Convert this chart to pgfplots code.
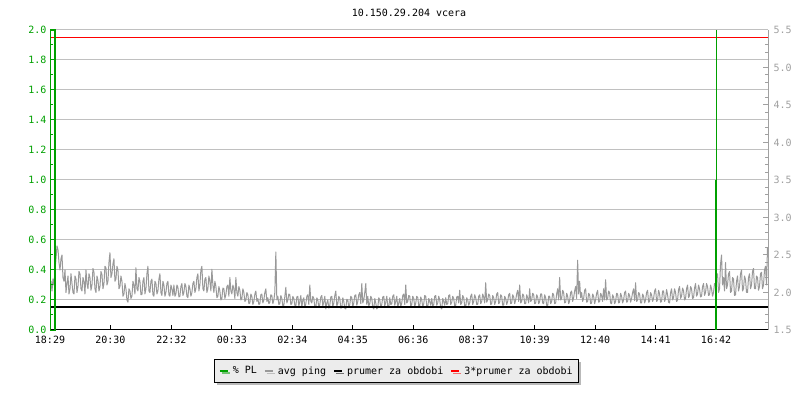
\documentclass[border=0pt]{standalone}
\usepackage{pgfplots}
\pgfplotsset{compat=1.18}
\usepackage{fontspec}
\setmainfont{DejaVu Sans Mono}
\usetikzlibrary{shadows}
\definecolor{plgreen}{RGB}{0,160,0}
\definecolor{pinggray}{RGB}{153,153,153}
\definecolor{gridgray}{RGB}{192,192,192}
\definecolor{axgray}{RGB}{160,160,160}
\definecolor{leggray}{RGB}{236,236,236}
\begin{document}
\begin{tikzpicture}[font=\fontsize{10bp}{12bp}\selectfont]
\useasboundingbox (0,0) rectangle (800bp,400bp);
\pgfplotsset{
  base/.style={at={(50bp,70bp)}, anchor=south west, scale only axis,
    width=718bp, height=300bp, xmin=0, xmax=1437,
    font=\fontsize{10bp}{12bp}\selectfont,
    /pgf/number format/assume math mode=true,
    tick align=inside, separate axis lines, axis line style={-}},
}
\begin{axis}[base,
  axis x line*=bottom, axis y line*=right,
  ymin=1.5, ymax=5.5,
  ytick={1.5,2.0,2.5,3.0,3.5,4.0,4.5,5.0,5.5}, minor y tick num=4,
  yticklabel style={/pgf/number format/.cd, fixed, fixed zerofill, precision=1, /tikz/.cd, text=axgray, xshift=2bp},
  y axis line style={draw=axgray, line width=1bp},
  ytick style={draw=axgray, line width=1bp},
  major tick length=5bp, minor tick length=3bp,
  xtick={0,121,243,364,485,606,727,848,970,1091,1212,1333},
  xticklabels={18:29,20:30,22:32,00:33,02:34,04:35,06:36,08:37,10:39,12:40,14:41,16:42},
  xticklabel style={yshift=-3bp},
  x axis line style={draw=black, line width=1bp},
  xtick style={draw=black, line width=1bp},
  extra y ticks={1.9,2.3,2.7,3.1,3.5,3.9,4.3,4.7,5.1,5.5},
  extra y tick labels={},
  extra y tick style={grid=major, major grid style={draw=gridgray, line width=1bp}, major tick length=0pt},
]
\addplot[pinggray, line width=1bp, line join=round, mark=none] coordinates {
(0,2.08)(2,2.15)(4,2.02)(6,2.18)(8,2.10)(10,2.30)(12,2.45)(14,2.62)(16,2.57)(18,2.40)(20,2.30)(22,2.45)(24,2.50)(26,2.20)(28,2.15)(30,2.30)(32,2.00)(34,2.12)(36,2.22)(38,1.98)(40,2.05)(42,2.25)(44,2.12)(46,2.00)
(48,1.98)(50,2.22)(52,2.18)(54,2.00)(56,2.08)(58,2.28)(60,2.25)(62,2.05)(64,2.02)(66,2.20)(68,2.15)(70,1.98)(72,2.30)(74,2.12)(76,2.05)(78,2.25)(80,2.20)(82,2.03)(84,2.10)(86,2.32)(88,2.27)(90,2.05)(92,2.00)(94,2.22)(96,2.16)(98,2.02)(100,2.08)(102,2.28)(104,2.24)(106,2.05)(108,2.12)(110,2.35)(112,2.33)(114,2.10)(116,2.15)(118,2.40)
(120,2.53)(122,2.20)(124,2.25)(126,2.38)(128,2.45)(130,2.15)(132,2.18)(134,2.35)(136,2.30)(138,2.05)(140,2.08)(142,2.22)(144,2.15)(146,1.95)(148,1.98)(150,2.12)(152,2.05)(154,1.90)(156,1.87)(158,2.05)(160,2.02)(162,1.92)(164,1.95)(166,2.15)(168,2.10)(170,1.98)(172,2.33)(174,2.05)(176,2.02)(178,2.20)(180,2.15)(182,1.97)(184,1.97)(186,2.15)(188,2.20)(190,1.98)(192,2.05)(194,2.25)(196,2.35)(198,2.02)(200,2.00)(202,2.15)(204,2.18)(206,1.97)(208,1.95)(210,2.15)(212,2.12)(214,1.98)(216,2.02)(218,2.18)(220,2.25)(222,2.00)(224,1.96)(226,2.15)(228,2.10)(230,1.95)(232,2.00)(234,2.12)(236,2.15)(238,1.97)(240,1.95)(242,2.10)(244,2.05)(246,1.96)
(248,2.10)(250,1.95)(252,1.98)(254,2.10)(256,2.07)(258,1.94)(260,1.95)(262,2.08)(264,2.12)(266,1.96)(268,2.00)(270,2.12)(272,2.08)(274,1.95)(276,1.93)(278,2.10)(280,2.05)(282,1.95)(284,2.00)(286,2.12)(288,2.15)(290,2.00)
(292,2.05)(294,2.20)(296,2.25)(298,2.02)(300,2.10)(302,2.30)(304,2.35)(306,2.05)(308,2.02)(310,2.18)(312,2.20)(314,2.00)(316,2.05)(318,2.22)(320,2.15)(322,2.02)(324,2.31)(326,2.10)(328,2.00)(330,2.15)
(332,2.08)(334,1.93)(336,1.95)(338,2.08)(340,2.02)(342,1.90)(344,1.92)(346,2.06)(348,2.05)(350,1.92)(352,1.97)(354,2.08)(356,2.10)(358,1.95)(360,2.20)(362,2.02)(364,1.98)(366,2.10)(368,2.05)(370,1.92)(372,2.20)(374,2.00)(376,1.95)(378,2.08)(380,2.03)(382,1.90)(384,1.92)(386,2.05)(388,2.00)
(390,1.88)(392,1.90)(394,2.00)(396,1.97)(398,1.85)(400,1.86)(402,1.98)(404,1.95)(406,1.84)(408,1.88)(410,1.98)(412,2.02)(414,1.88)(416,1.92)(418,1.84)(420,1.85)(422,1.97)(424,1.98)(426,1.86)(428,1.90)(430,2.00)(432,2.05)(434,1.88)(436,1.93)(438,1.85)(440,1.87)(442,1.97)(444,1.96)(446,1.85)(448,1.90)(450,2.00)
(452,2.54)(454,1.90)(456,1.95)(458,1.84)(460,1.85)(462,1.96)(464,1.92)(466,1.82)(468,1.83)(470,1.95)(472,2.07)(474,1.86)(476,1.90)(478,1.98)(480,1.97)(482,1.84)(484,1.85)(486,1.95)(488,1.92)
(490,1.83)(492,1.82)(494,1.94)(496,1.95)(498,1.82)(500,1.88)(502,1.96)(504,1.80)(506,1.90)(508,1.93)(510,1.80)(512,1.85)(514,1.95)(516,1.97)(518,1.84)(520,2.10)(522,1.88)(524,1.86)(526,1.95)(528,1.92)(530,1.81)(532,1.80)(534,1.93)(536,1.90)(538,1.80)(540,1.84)(542,1.94)(544,1.96)(546,1.82)(548,1.87)(550,1.95)(552,1.78)(554,1.86)(556,1.90)(558,1.79)(560,1.83)(562,1.94)(564,1.95)(566,1.81)(568,1.86)(570,1.96)(572,2.02)(574,1.82)(576,1.85)(578,1.95)(580,1.92)(582,1.79)(584,1.80)(586,1.93)(588,1.88)(590,1.79)(592,1.78)(594,1.91)(596,1.90)(598,1.80)(600,1.84)(602,1.95)(604,1.93)(606,1.81)(608,1.86)(610,1.96)(612,1.97)(614,1.83)(616,1.88)(618,1.97)(620,2.00)(622,1.85)(624,2.12)(626,1.86)(628,1.90)(630,2.00)(632,2.12)(634,1.84)(636,1.95)(638,1.82)(640,1.85)(642,1.95)(644,1.92)(646,1.80)(648,1.78)(650,1.92)(652,1.86)(654,1.78)(656,1.80)(658,1.93)(660,1.90)(662,1.80)(664,1.84)(666,1.94)(668,1.95)(670,1.82)(672,1.87)(674,1.95)(676,1.82)(678,1.80)(680,1.93)(682,1.84)(684,1.85)(686,1.95)(688,1.97)(690,1.83)(692,1.88)(694,1.95)(696,1.80)(698,1.86)(700,1.92)(702,1.81)(704,1.86)(706,1.96)(708,1.98)(710,1.84)(712,2.10)(714,1.86)(716,1.88)(718,1.96)(720,1.95)(722,1.82)(724,1.84)(726,1.95)(728,1.92)(730,1.81)(732,1.86)(734,1.95)
(736,1.93)(738,1.82)(740,1.82)(742,1.94)(744,1.90)(746,1.81)(748,1.85)(750,1.96)(752,1.95)(754,1.82)(756,1.80)(758,1.92)(760,1.88)(762,1.83)(764,1.92)(766,1.82)(768,1.84)(770,1.95)(772,1.96)(774,1.83)(776,1.86)(778,1.95)(780,1.90)(782,1.80)(784,1.78)(786,1.92)(788,1.88)(790,1.83)(792,1.93)(794,1.84)(796,1.85)(798,1.96)(800,1.97)(802,1.84)(804,1.87)(806,1.95)(808,1.92)(810,1.82)(812,1.83)(814,1.94)(816,1.95)(818,1.86)(820,2.03)(822,1.84)(824,1.86)(826,1.96)(828,1.93)(830,1.82)(832,1.80)(834,1.93)(836,1.90)(838,1.83)(840,1.86)(842,1.95)(844,1.98)(846,1.84)(848,1.88)(850,1.97)(852,1.93)(854,1.84)(856,1.84)(858,1.95)(860,1.97)(862,1.85)(864,1.88)(866,1.98)(868,1.94)(870,1.86)(872,2.13)(874,1.87)(876,1.90)(878,1.98)(880,1.96)(882,1.84)(884,1.85)(886,1.96)(888,1.93)(890,1.84)(892,1.88)(894,1.98)(896,2.00)(898,1.85)(900,1.87)(902,1.97)(904,1.95)(906,1.83)(908,1.83)(910,1.95)(912,1.92)(914,1.84)(916,1.88)(918,1.97)(920,1.99)(922,1.85)(924,1.86)(926,1.97)(928,1.94)(930,1.85)(932,1.90)(934,1.98)(936,2.03)(938,1.88)(940,2.10)(942,1.86)(944,1.88)(946,1.98)(948,1.96)(950,1.85)(952,1.85)(954,1.97)(956,1.93)(958,1.86)(960,2.05)(962,1.88)(964,1.90)(966,1.99)(968,1.97)(970,1.85)(972,1.86)(974,1.97)(976,1.94)(978,1.85)
(980,1.88)(982,1.98)(984,1.98)(986,1.86)(988,1.85)(990,1.97)(992,1.93)(994,1.83)(996,1.82)(998,1.95)(1000,1.95)(1002,1.85)(1004,1.88)(1006,1.99)(1008,1.97)(1010,1.85)(1012,1.86)(1014,1.98)(1016,2.05)(1018,1.90)(1020,2.20)(1022,1.90)(1024,1.92)(1026,2.03)(1028,2.00)(1030,1.86)(1032,1.87)(1034,1.99)(1036,1.95)(1038,1.85)(1040,1.89)(1042,2.00)(1044,2.02)(1046,1.88)(1048,1.93)(1050,2.02)(1052,2.08)(1054,1.92)(1056,2.43)(1058,1.98)(1060,2.15)(1062,1.93)(1064,2.00)(1066,1.88)(1068,1.92)(1070,2.03)(1072,2.05)(1074,1.87)(1076,1.88)(1078,1.99)(1080,1.97)(1082,1.85)(1084,1.86)(1086,1.98)(1088,1.95)(1090,1.85)(1092,1.90)(1094,1.99)(1096,2.03)(1098,1.87)(1100,1.88)(1102,1.99)(1104,1.96)(1106,1.88)(1108,2.05)(1110,1.90)(1112,2.17)(1114,1.90)(1116,1.92)(1118,2.02)(1120,2.00)(1122,1.86)(1124,1.85)(1126,1.97)(1128,1.94)(1130,1.85)(1132,1.88)(1134,1.99)(1136,1.98)(1138,1.86)(1140,1.87)(1142,1.99)(1144,1.95)(1146,1.86)(1148,1.90)(1150,2.00)(1152,2.02)(1154,1.87)(1156,1.88)(1158,1.99)(1160,1.96)(1162,1.87)(1164,1.92)(1166,2.00)(1168,2.05)(1170,1.89)(1172,2.13)(1174,1.88)(1176,1.90)(1178,2.00)(1180,1.98)(1182,1.86)(1184,1.86)(1186,1.98)(1188,1.95)(1190,1.86)(1192,1.90)(1194,2.00)(1196,2.03)(1198,1.87)(1200,1.88)(1202,2.00)(1204,1.97)(1206,1.88)(1208,1.92)(1210,2.02)(1212,2.05)(1214,1.88)(1216,1.90)(1218,2.03)(1220,1.98)
(1222,1.87)(1224,1.88)(1226,2.02)(1228,2.02)(1230,1.88)(1232,1.92)(1234,2.04)(1236,1.97)(1238,1.87)(1240,1.86)(1242,2.00)(1244,2.05)(1246,1.90)(1248,1.93)(1250,2.05)(1252,2.00)(1254,1.88)(1256,1.90)(1258,2.04)(1260,2.08)(1262,1.92)(1264,1.95)(1266,2.06)(1268,2.02)(1270,1.90)(1272,1.92)(1274,2.05)(1276,2.10)(1278,1.93)(1280,1.96)(1282,2.08)(1284,2.05)(1286,1.92)(1288,1.93)(1290,2.06)(1292,2.12)(1294,1.95)(1296,1.98)
(1298,2.10)(1300,2.05)(1302,1.94)(1304,1.95)(1306,2.08)(1308,2.12)(1310,1.96)(1312,2.00)(1314,2.12)(1316,2.08)(1318,1.96)(1320,1.97)(1322,2.10)(1324,2.05)(1326,1.95)(1328,2.00)(1330,2.12)(1332,2.10)
(1334,2.20)(1336,2.25)(1338,2.00)(1340,2.05)(1342,2.38)(1344,2.50)(1346,2.10)(1348,2.20)(1350,2.02)(1352,2.40)(1354,2.05)(1356,2.10)(1358,2.25)(1360,2.28)(1362,2.00)(1364,2.02)(1366,2.20)(1368,2.18)(1370,1.96)(1372,1.97)(1374,2.15)(1376,2.22)(1378,2.02)(1380,2.08)(1382,2.25)(1384,2.30)(1386,2.02)(1388,2.05)(1390,2.22)(1392,2.17)(1394,2.00)(1396,2.00)(1398,2.20)(1400,2.25)(1402,2.05)(1404,2.10)(1406,2.28)(1408,2.32)(1410,2.05)(1412,2.05)(1414,2.22)(1416,2.20)(1418,2.03)(1420,2.08)(1422,2.25)(1424,2.27)(1426,2.05)(1428,2.10)(1430,2.30)(1432,2.35)(1434,2.10)(1436,2.60)
};
\addplot[black, line width=2bp, mark=none] coordinates {(0,1.8)(1437,1.8)};
\addplot[red, line width=1bp, mark=none] coordinates {(0,5.4)(1437,5.4)};
\end{axis}
\begin{axis}[base,
  axis x line=none, axis y line*=left,
  ymin=0, ymax=2,
  ytick={0,0.2,0.4,0.6,0.8,1.0,1.2,1.4,1.6,1.8,2.0}, minor y tick num=1,
  yticklabel style={/pgf/number format/.cd, fixed, fixed zerofill, precision=1, /tikz/.cd, text=plgreen},
  y axis line style={draw=plgreen, line width=1bp},
  ytick style={draw=plgreen, line width=1bp},
  major tick length=6bp, minor tick length=3bp,
  legend columns=4,
  legend style={at={(0.483,-0.137)}, anchor=center, draw=black, fill=leggray, line width=1bp,
    font=\fontsize{10bp}{12bp}\selectfont,
    drop shadow={shadow xshift=2bp, shadow yshift=-2bp, fill=black!55},
    inner xsep=4bp, inner ysep=5bp,
    /tikz/every even column/.append style={column sep=5bp},
    /tikz/every odd column/.append style={column sep=2bp}},
  legend image code/.code={\draw[#1, line width=2bp] (0bp,0bp) -- (8bp,0bp);},
]
\addplot[plgreen, line width=2bp, mark=none] coordinates {(0,2.0)(11,2.0)(11,0)};
\addlegendentry{\% PL}
\addplot[plgreen, line width=2bp, mark=none, forget plot] coordinates {(1333,0)(1333,1.0)};
\addplot[plgreen, line width=1bp, mark=none, forget plot] coordinates {(1333,1.0)(1333,2.0)};
\addlegendimage{pinggray}
\addlegendentry{avg ping}
\addlegendimage{black}
\addlegendentry{prumer za obdobi}
\addlegendimage{red}
\addlegendentry{3*prumer za obdobi}
\end{axis}
\node[anchor=center] at (409bp,387bp) {10.150.29.204 vcera};
\end{tikzpicture}
\end{document}
